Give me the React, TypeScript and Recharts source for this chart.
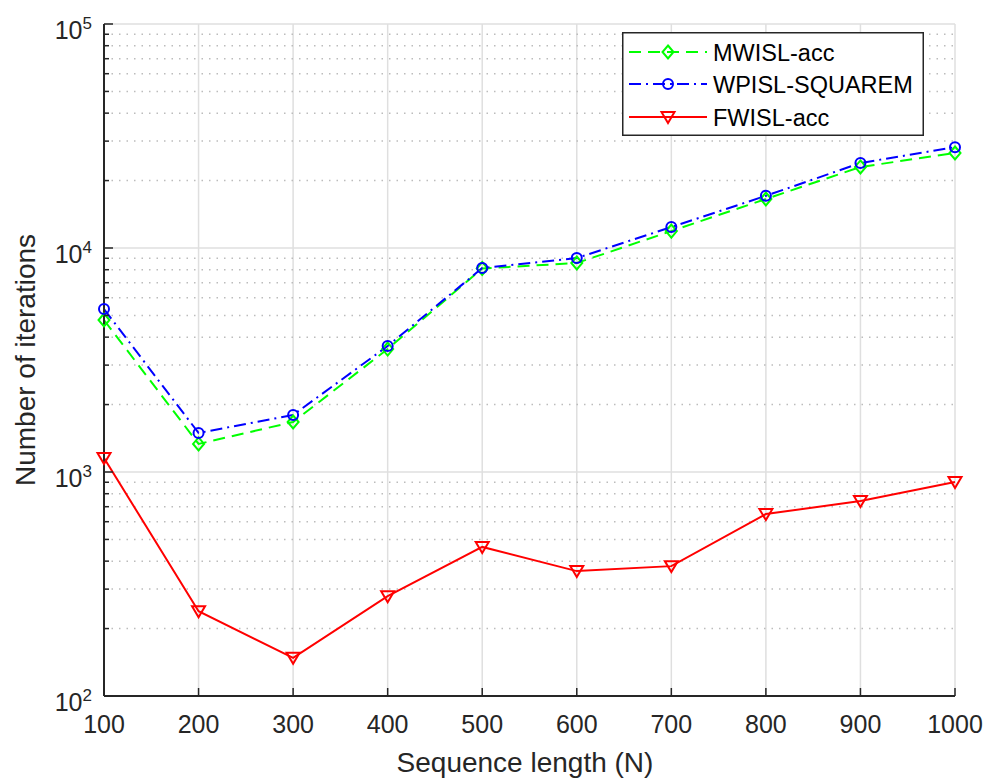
import React from 'react';
import { LineChart, Line, XAxis, YAxis, CartesianGrid, ReferenceLine, Legend, Customized } from 'recharts';

const sequenceLengths = [100, 200, 300, 400, 500, 600, 700, 800, 900, 1000];
const mwislAcc = [4770, 1334, 1672, 3540, 8100, 8570, 11900, 16550, 23000, 26550];
const wpislSquarem = [5340, 1494, 1797, 3650, 8140, 9020, 12400, 17100, 23950, 28200];
const fwislAcc = [1155, 239, 148, 279, 463, 361, 380, 649, 742, 902];

const xTicks = [100, 200, 300, 400, 500, 600, 700, 800, 900, 1000];
const yMajorTicks = [100, 1000, 10000, 100000];
const yMajorExponents = ['2', '3', '4', '5'];
const yMinorTicks = [
  200, 300, 400, 500, 600, 700, 800, 900,
  2000, 3000, 4000, 5000, 6000, 7000, 8000, 9000,
  20000, 30000, 40000, 50000, 60000, 70000, 80000, 90000,
];
const seriesNames = ['MWISL-acc', 'WPISL-SQUAREM', 'FWISL-acc'];
const xTitle = 'Sequence length (N)';
const yTitle = 'Number of iterations';

const FONT = '"Liberation Sans", Arial, Helvetica, sans-serif';
const GREEN = '#00ff00';
const BLUE = '#0000ff';
const RED = '#ff0000';
const AXIS = '#262626';
const GRID = '#dfdfdf';
const MINOR = '#bcbcbc';
const GREEN_DASH = '12 7';
const BLUE_DASH = '12 5 2 5';

const data = sequenceLengths.map((n, i) => ({
  n,
  mwisl: mwislAcc[i],
  wpisl: wpislSquarem[i],
  fwisl: fwislAcc[i],
}));

const diamondPath = (cx: number, cy: number) =>
  `M${cx},${cy - 6.5}L${cx + 5.5},${cy}L${cx},${cy + 6.5}L${cx - 5.5},${cy}Z`;
const trianglePath = (cx: number, cy: number) =>
  `M${cx - 6.5},${cy - 5}L${cx + 6.5},${cy - 5}L${cx},${cy + 6}Z`;

const DiamondDot = (props: any) => {
  const { cx, cy, index } = props;
  if (cx == null || cy == null) return <g key={`d-${index}`} />;
  return <path key={`d-${index}`} d={diamondPath(cx, cy)} fill="none" stroke={GREEN} strokeWidth={2} />;
};
const CircleDot = (props: any) => {
  const { cx, cy, index } = props;
  if (cx == null || cy == null) return <g key={`c-${index}`} />;
  return <circle key={`c-${index}`} cx={cx} cy={cy} r={5} fill="none" stroke={BLUE} strokeWidth={2} />;
};
const TriangleDot = (props: any) => {
  const { cx, cy, index } = props;
  if (cx == null || cy == null) return <g key={`t-${index}`} />;
  return <path key={`t-${index}`} d={trianglePath(cx, cy)} fill="none" stroke={RED} strokeWidth={2} />;
};

const YTick = (props: any) => {
  const { x, y, payload } = props;
  const v = payload.value;
  const mi = yMajorTicks.indexOf(v);
  const major = mi >= 0;
  return (
    <g>
      <line x1={x} x2={x + (major ? 9 : 5)} y1={y} y2={y} stroke={AXIS} strokeWidth={1.5} />
      {major && (
        <text x={x - 12} y={y + 14.5} textAnchor="end" fontFamily={FONT} fontSize={25} fill={AXIS}>
          <tspan>10</tspan>
          <tspan dy={-10} fontSize={17}>{yMajorExponents[mi]}</tspan>
        </text>
      )}
    </g>
  );
};

const XTick = (props: any) => {
  const { x, y, payload } = props;
  return (
    <g>
      <line x1={x} x2={x} y1={y} y2={y - 8} stroke={AXIS} strokeWidth={1.5} />
      <text x={x} y={y + 37} textAnchor="middle" fontFamily={FONT} fontSize={25} fill={AXIS}>
        {payload.value}
      </text>
    </g>
  );
};

const LegendContent = () => {
  const rows = [
    { name: seriesNames[0], color: GREEN, dash: GREEN_DASH, kind: 'd' },
    { name: seriesNames[1], color: BLUE, dash: BLUE_DASH, kind: 'c' },
    { name: seriesNames[2], color: RED, dash: undefined, kind: 't' },
  ];
  const rowY = [20, 52, 85];
  return (
    <svg width={302} height={104} style={{ display: 'block' }}>
      <rect x={0.75} y={0.75} width={300.5} height={102.5} fill="#ffffff" stroke={AXIS} strokeWidth={1.5} />
      {rows.map((r, i) => {
        const cy = rowY[i];
        return (
          <g key={r.name}>
            <line x1={7} x2={85} y1={cy} y2={cy} stroke={r.color} strokeWidth={2} strokeDasharray={r.dash} />
            {r.kind === 'd' && <path d={diamondPath(46, cy)} fill="none" stroke={r.color} strokeWidth={2} />}
            {r.kind === 'c' && <circle cx={46} cy={cy} r={5} fill="none" stroke={r.color} strokeWidth={2} />}
            {r.kind === 't' && <path d={trianglePath(46, cy)} fill="none" stroke={r.color} strokeWidth={2} />}
            <text x={91} y={cy + 8.5} fontFamily={FONT} fontSize={23.5} fill="#000000">
              {r.name}
            </text>
          </g>
        );
      })}
    </svg>
  );
};

const AxisTitles = () => (
  <g>
    <text x={525} y={772} textAnchor="middle" fontFamily={FONT} fontSize={28} fill={AXIS}>
      {xTitle}
    </text>
    <text
      x={0}
      y={0}
      transform="translate(34.5,360) rotate(-90)"
      textAnchor="middle"
      fontFamily={FONT}
      fontSize={28}
      fill={AXIS}
    >
      {yTitle}
    </text>
  </g>
);

export default function App() {
  return (
    <div style={{ position: 'absolute', left: 0, top: 0, width: 989, height: 782, background: '#ffffff' }}>
      <LineChart
        width={989}
        height={782}
        data={data}
        margin={{ top: 24, right: 34, bottom: 26, left: 40 }}
      >
        <CartesianGrid horizontal={false} vertical={true} stroke={GRID} strokeWidth={1.5} />
        {yMinorTicks.map((v) => (
          <ReferenceLine key={`m-${v}`} y={v} stroke={MINOR} strokeWidth={1.5} strokeDasharray="1.5 6" />
        ))}
        {yMajorTicks.map((v) => (
          <ReferenceLine key={`M-${v}`} y={v} stroke={GRID} strokeWidth={1.5} />
        ))}
        <XAxis
          dataKey="n"
          type="number"
          domain={[100, 1000]}
          ticks={xTicks}
          interval={0}
          tickSize={0}
          tickMargin={0}
          tickLine={false}
          tick={<XTick />}
          axisLine={{ stroke: AXIS, strokeWidth: 2 }}
          height={60}
        />
        <YAxis
          type="number"
          scale="log"
          domain={[100, 100000]}
          ticks={[...yMajorTicks, ...yMinorTicks]}
          interval={0}
          tickSize={0}
          tickMargin={0}
          tickLine={false}
          tick={<YTick />}
          axisLine={{ stroke: AXIS, strokeWidth: 2 }}
          width={64}
        />
        <Legend
          layout="horizontal"
          verticalAlign="middle"
          align="center"
          content={<LegendContent />}
          wrapperStyle={{ position: 'absolute', left: 622, top: 32, width: 302, height: 104 }}
        />
        <Line
          dataKey="mwisl"
          name={seriesNames[0]}
          stroke={GREEN}
          strokeWidth={2}
          strokeDasharray={GREEN_DASH}
          dot={(p: any) => <DiamondDot {...p} key={`dd-${p.index}`} />}
          activeDot={false}
          isAnimationActive={false}
        />
        <Line
          dataKey="wpisl"
          name={seriesNames[1]}
          stroke={BLUE}
          strokeWidth={2}
          strokeDasharray={BLUE_DASH}
          dot={(p: any) => <CircleDot {...p} key={`cd-${p.index}`} />}
          activeDot={false}
          isAnimationActive={false}
        />
        <Line
          dataKey="fwisl"
          name={seriesNames[2]}
          stroke={RED}
          strokeWidth={2}
          dot={(p: any) => <TriangleDot {...p} key={`td-${p.index}`} />}
          activeDot={false}
          isAnimationActive={false}
        />
        <Customized component={<AxisTitles />} />
      </LineChart>
    </div>
  );
}
